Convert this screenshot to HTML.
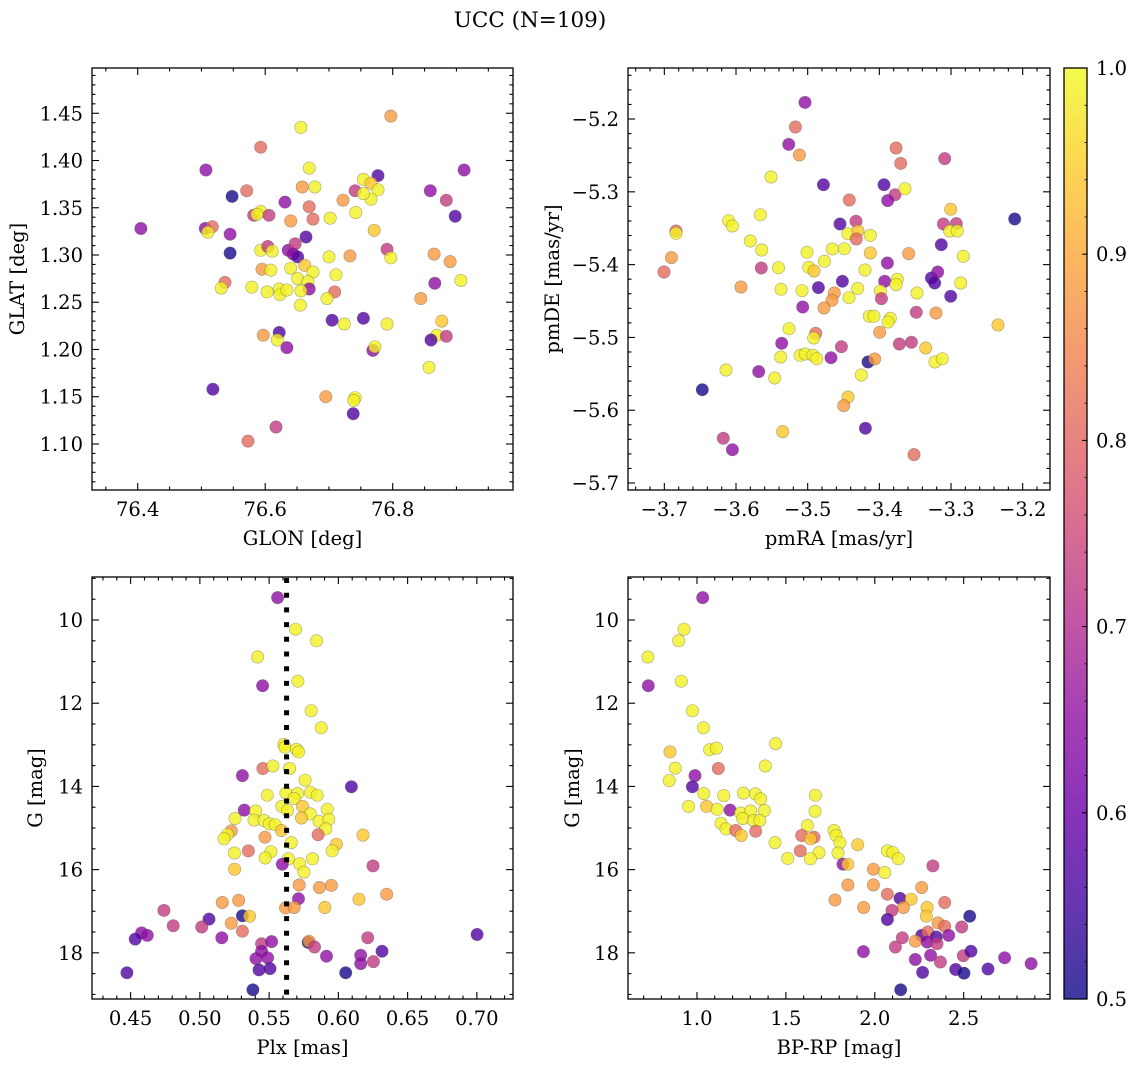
<!DOCTYPE html>
<html><head><meta charset="utf-8"><style>
html,body{margin:0;padding:0;background:#fff;}
svg{display:block;font-family:"DejaVu Serif","Liberation Serif",serif;}
</style></head><body>
<svg id="fig" width="1136" height="1067" viewBox="0 0 1136 1067" xmlns="http://www.w3.org/2000/svg">
<rect width="1136" height="1067" fill="#fff"/>
<text x="530" y="27" font-size="21.5" text-anchor="middle">UCC (N=109)</text>
</svg>
<script>
// ---------- data ----------
const p1Glon=[76.405,76.507,76.797,76.656,76.593,76.669,76.777,76.912,76.548,76.571,76.631,76.658,76.678,76.722,76.741,76.754,76.766,76.777,76.766,76.754,76.742,76.859,76.884,76.898,76.582,76.593,76.606,76.587,76.669,76.675,76.640,76.702,76.771,76.506,76.517,76.510,76.545,76.664,76.545,76.593,76.604,76.611,76.636,76.647,76.644,76.651,76.700,76.733,76.791,76.797,76.865,76.890,76.595,76.609,76.640,76.662,76.675,76.651,76.667,76.711,76.537,76.531,76.579,76.603,76.622,76.623,76.634,76.669,76.656,76.709,76.697,76.655,76.866,76.907,76.844,76.705,76.724,76.754,76.791,76.877,76.869,76.860,76.884,76.597,76.622,76.619,76.634,76.769,76.772,76.857,76.518,76.695,76.741,76.739,76.738,76.617,76.573];
const p1Glat=[1.328,1.390,1.447,1.435,1.414,1.392,1.384,1.390,1.362,1.368,1.356,1.372,1.372,1.358,1.368,1.380,1.376,1.369,1.359,1.365,1.345,1.368,1.358,1.341,1.342,1.346,1.342,1.343,1.351,1.338,1.336,1.339,1.326,1.328,1.330,1.324,1.322,1.319,1.302,1.305,1.309,1.304,1.305,1.312,1.301,1.298,1.298,1.299,1.306,1.297,1.301,1.293,1.285,1.284,1.286,1.289,1.282,1.275,1.272,1.279,1.271,1.265,1.266,1.261,1.264,1.258,1.263,1.264,1.262,1.261,1.254,1.247,1.270,1.273,1.254,1.231,1.227,1.233,1.227,1.230,1.215,1.210,1.214,1.215,1.218,1.210,1.202,1.199,1.203,1.181,1.158,1.150,1.149,1.146,1.132,1.118,1.103];
const p1Prob=[.65,.65,.88,.99,.81,.99,.57,.65,.51,.81,.65,.88,.99,.88,.73,.99,.94,.99,.99,.99,.99,.65,.73,.57,.73,.99,.73,.99,.81,.81,.88,.99,.94,.65,.81,.99,.65,.57,.51,.99,.73,.99,.65,.73,.65,.57,.99,.88,.73,.99,.88,.88,.88,.99,.99,.94,.99,.99,.99,.99,.81,.99,.99,.99,.99,.99,.99,.65,.99,.81,.99,.99,.65,.99,.88,.57,.99,.57,.99,.94,.99,.57,.73,.88,.57,.99,.65,.65,.99,.99,.57,.88,.99,.99,.57,.73,.81];

const p2PmRA=[-3.5037,-3.5172,-3.5265,-3.5116,-3.5512,-3.4781,-3.3767,-3.3702,-3.3088,-3.3935,-3.3781,-3.3884,-3.3642,-3.4419,-3.3004,-3.2112,-3.3107,-3.2926,-3.3019,-3.2912,-3.3135,-3.4549,-3.4326,-3.4437,-3.4298,-3.4321,-3.4126,-3.6837,-3.6837,-3.6102,-3.6051,-3.5660,-3.5800,-3.5642,-3.6902,-3.7005,-3.5647,-3.5409,-3.5009,-3.4656,-3.4488,-3.4126,-3.3591,-3.2828,-3.4767,-3.4986,-3.4912,-3.3888,-3.4200,-3.5930,-3.5372,-3.5079,-3.4851,-3.4516,-3.4628,-3.4660,-3.4423,-3.4302,-3.3926,-3.3749,-3.3767,-3.3986,-3.3972,-3.3274,-3.3186,-3.3228,-3.3474,-3.2865,-3.3004,-3.5070,-3.4772,-3.4140,-3.4074,-3.3847,-3.3879,-3.3484,-3.3209,-3.2344,-3.5260,-3.4888,-3.4916,-3.3995,-3.5363,-3.4530,-3.3721,-3.3553,-3.3353,-3.5377,-3.5107,-3.5033,-3.4926,-3.4874,-3.4674,-3.4158,-3.4065,-3.3223,-3.3121,-3.6140,-3.5684,-3.5460,-3.4251,-3.6470,-3.4437,-3.4498,-3.5349,-3.4195,-3.6177,-3.6051,-3.3516];
const p2PmDE=[-5.1771,-5.2109,-5.2348,-5.2494,-5.2796,-5.2902,-5.2398,-5.2609,-5.2544,-5.2902,-5.3039,-5.3121,-5.2957,-5.3112,-5.3240,-5.3373,-5.3442,-5.3437,-5.3538,-5.3538,-5.3726,-5.3442,-5.3405,-5.3575,-5.3538,-5.3648,-5.3598,-5.3538,-5.3570,-5.3396,-5.3469,-5.3314,-5.3675,-5.3799,-5.3904,-5.4101,-5.4046,-5.4042,-5.3831,-5.3785,-5.3781,-5.3840,-5.3849,-5.3886,-5.3955,-5.4037,-5.4087,-5.3978,-5.4074,-5.4307,-5.4339,-5.4358,-5.4316,-5.4229,-5.4390,-5.4490,-5.4454,-5.4326,-5.4229,-5.4202,-5.4275,-5.4362,-5.4467,-5.4184,-5.4101,-5.4252,-5.4390,-5.4252,-5.4435,-5.4582,-5.4596,-5.4710,-5.4710,-5.4738,-5.4788,-5.4655,-5.4664,-5.4829,-5.4880,-5.4944,-5.5008,-5.4930,-5.5081,-5.5127,-5.5090,-5.5067,-5.5145,-5.5269,-5.5246,-5.5228,-5.5246,-5.5292,-5.5278,-5.5337,-5.5296,-5.5337,-5.5292,-5.5447,-5.5470,-5.5557,-5.5516,-5.5718,-5.5818,-5.5937,-5.6294,-5.6249,-5.6386,-5.6542,-5.6610];
const p2Prob=[.65,.81,.65,.88,.99,.57,.81,.81,.73,.57,.73,.65,.99,.81,.94,.51,.73,.73,.99,.99,.57,.57,.73,.99,.94,.81,.99,.81,.99,.99,.99,.99,.99,.99,.88,.81,.73,.99,.99,.99,.99,.94,.88,.99,.99,.99,.94,.65,.99,.88,.99,.99,.57,.57,.88,.88,.99,.99,.65,.99,.99,.99,.73,.57,.65,.57,.99,.99,.57,.65,.88,.99,.99,.99,.99,.73,.88,.94,.99,.81,.99,.88,.65,.73,.73,.73,.94,.99,.99,.99,.99,.99,.65,.51,.88,.99,.99,.99,.65,.99,.99,.51,.94,.88,.94,.57,.73,.65,.81];

const p3Plx=[0.5561,0.5691,0.5842,0.5417,0.5453,0.5708,0.5804,0.5876,0.5607,0.5614,0.5698,0.5712,0.5455,0.5527,0.5648,0.5307,0.5760,0.6094,0.5487,0.5621,0.5705,0.5799,0.5847,0.5679,0.5592,0.5633,0.5741,0.5321,0.5403,0.5797,0.5919,0.5254,0.5391,0.5463,0.5501,0.5544,0.5734,0.5861,0.5931,0.5909,0.5590,0.5227,0.5198,0.5174,0.5470,0.5854,0.6178,0.5660,0.5986,0.5955,0.5350,0.5249,0.5513,0.5472,0.5640,0.5813,0.5595,0.5720,0.5751,0.5251,0.6250,0.5717,0.5864,0.5950,0.6349,0.6149,0.5712,0.5280,0.5162,0.5902,0.5619,0.5681,0.4740,0.5066,0.5307,0.5359,0.5227,0.4807,0.5013,0.5307,0.4579,0.4620,0.4533,0.5158,0.5446,0.5518,0.5782,0.5789,0.5828,0.5446,0.5405,0.5489,0.5914,0.6212,0.6161,0.6315,0.6253,0.6161,0.7002,0.5427,0.5506,0.6053,0.4473,0.5383];
const p3G=[9.46,10.22,10.50,10.89,11.58,11.47,12.18,12.59,12.99,13.06,13.11,13.17,13.57,13.51,13.57,13.74,13.85,14.01,14.21,14.16,14.17,14.14,14.21,14.29,14.48,14.58,14.48,14.57,14.59,14.66,14.55,14.77,14.81,14.82,14.90,14.92,14.76,14.84,14.79,15.02,15.06,15.07,15.16,15.26,15.22,15.16,15.17,15.35,15.39,15.55,15.55,15.60,15.57,15.72,15.74,15.74,15.87,15.86,16.06,15.99,15.91,16.37,16.43,16.38,16.59,16.71,16.70,16.74,16.79,16.91,16.92,16.91,16.98,17.19,17.11,17.12,17.29,17.35,17.38,17.48,17.52,17.58,17.67,17.64,17.78,17.73,17.75,17.72,17.86,17.96,18.14,18.12,18.08,17.64,18.06,17.96,18.21,18.26,17.56,18.41,18.38,18.48,18.48,18.89];
const p3Prob=[.65,.99,.99,.99,.65,.99,.99,.99,.99,.99,.99,.99,.81,.99,.99,.65,.99,.57,.99,.99,.99,.99,.99,.99,.99,.99,.94,.65,.99,.99,.99,.99,.99,.99,.99,.99,.94,.99,.99,.99,.94,.88,.99,.99,.88,.81,.94,.99,.94,.99,.81,.99,.99,.99,.99,.99,.65,.99,.99,.94,.73,.88,.88,.88,.88,.94,.65,.88,.88,.94,.88,.88,.73,.57,.51,.94,.88,.73,.73,.81,.65,.65,.57,.65,.73,.65,.51,.88,.73,.65,.65,.65,.65,.73,.65,.57,.73,.65,.57,.57,.57,.51,.57,.51];
const plxMedian=0.5626;

const p4BpRp=[1.032,0.927,0.897,0.724,0.726,0.912,0.974,1.036,1.443,0.848,1.071,1.109,1.384,0.878,1.120,0.989,0.844,0.974,1.038,1.150,1.261,1.328,1.358,1.666,0.953,1.054,1.113,1.186,1.246,1.302,1.379,1.664,1.257,1.317,1.354,1.135,1.163,1.218,1.249,1.330,1.621,1.589,1.658,1.638,1.771,1.782,1.804,1.904,1.439,1.581,1.686,1.510,1.638,1.793,2.071,2.102,2.132,1.821,1.848,2.327,1.992,2.056,1.849,1.992,2.264,2.071,1.776,2.142,2.204,2.393,1.937,2.161,2.294,2.097,2.290,2.071,2.534,2.356,2.393,2.489,2.155,2.264,2.299,2.346,2.416,2.228,2.295,2.350,2.116,1.936,2.228,2.314,2.369,2.498,2.541,2.730,2.879,2.269,2.455,2.502,2.637,2.146];
const p4G=[9.46,10.22,10.50,10.89,11.58,11.47,12.18,12.59,12.97,13.17,13.12,13.08,13.51,13.56,13.57,13.74,13.86,14.01,14.17,14.22,14.16,14.18,14.30,14.21,14.48,14.48,14.55,14.57,14.64,14.59,14.58,14.60,14.77,14.82,14.82,14.89,15.02,15.06,15.18,15.08,14.94,15.18,15.22,15.26,15.06,15.18,15.35,15.40,15.35,15.55,15.59,15.73,15.74,15.60,15.55,15.59,15.74,15.87,15.87,15.91,15.99,16.07,16.37,16.37,16.43,16.59,16.73,16.69,16.71,16.79,16.91,16.91,16.91,16.98,17.12,17.20,17.12,17.28,17.36,17.38,17.64,17.58,17.50,17.62,17.58,17.72,17.74,17.78,17.86,17.97,18.16,18.06,18.22,18.07,17.96,18.12,18.26,18.47,18.40,18.49,18.39,18.89];
const p4Prob=[.65,.99,.99,.99,.65,.99,.99,.99,.99,.94,.99,.99,.99,.99,.81,.65,.99,.57,.99,.99,.99,.99,.99,.99,.99,.94,.99,.65,.99,.99,.99,.99,.99,.99,.99,.99,.99,.81,.94,.81,.99,.81,.81,.94,.99,.99,.99,.94,.99,.81,.99,.99,.99,.99,.99,.99,.99,.65,.94,.73,.88,.99,.88,.88,.88,.81,.88,.57,.94,.81,.88,.88,.94,.73,.94,.57,.51,.88,.81,.73,.73,.57,.81,.57,.65,.88,.65,.73,.73,.65,.65,.65,.73,.73,.57,.65,.65,.57,.57,.51,.57,.51];

const cbarTicks=[0.5,0.6,0.7,0.8,0.9,1.0];

// ---------- helpers ----------
const NS='http://www.w3.org/2000/svg';
const svg=document.getElementById('fig');
const FS=19.5;
function mk(tag,attrs,parent){const e=document.createElementNS(NS,tag);for(const k in attrs)e.setAttribute(k,attrs[k]);(parent||svg).appendChild(e);return e;}
const stops=[[13,8,135],[65,4,157],[106,0,168],[143,13,164],[177,42,144],[204,71,120],[225,100,98],[242,132,75],[252,166,54],[252,206,37],[240,249,33]];
function plasma(v){let t=(v-0.5)/0.5;t=Math.max(0,Math.min(1,t));const f=t*10;const i=Math.min(9,Math.floor(f));const r=f-i;const a=stops[i],b=stops[i+1];return 'rgb('+[0,1,2].map(k=>Math.round(a[k]+(b[k]-a[k])*r)).join(',')+')';}
function fmt(v,d){const s=Math.abs(v).toFixed(d);return (v<-1e-9?'\u2212':'')+s;}

function panel(cfg){
  const {name,x0,y0,w,h,xmin,xmax,ymin,ymax,invY,xMaj,xMin,yMaj,yMin,xDec,yDec,xLabel,yLabel,yLabelX,xs,ys,ps}=cfg;
  const g=mk('g',{});
  
  
  const sx=v=>x0+(v-xmin)/(xmax-xmin)*w;
  const sy=v=>invY? y0+(v-ymin)/(ymax-ymin)*h : y0+h-(v-ymin)/(ymax-ymin)*h;
  const pg=mk('g',{},g);
  
  
  for(let i=0;i<xs.length;i++){
    const c=mk('circle',{cx:sx(xs[i]).toFixed(1),cy:sy(ys[i]).toFixed(1),r:6.2,fill:plasma(ps[i]),'fill-opacity':0.8,stroke:'#444','stroke-opacity':0.45,'stroke-width':0.6},pg);
    
    
  }
  if(cfg.extra)cfg.extra(g,sx,sy);
  const fr=mk('rect',{x:x0,y:y0,width:w,height:h,fill:'none',stroke:'#000','stroke-width':1.3},g);
  
  
  const xt=mk('g',{stroke:'#000','stroke-width':1.1},g);
  
  
  const eps=1e-9;
  for(let v=Math.ceil(xmin/xMin-eps)*xMin;v<=xmax+eps;v+=xMin){
    const isMaj=Math.abs(v/xMaj-Math.round(v/xMaj))<1e-6;const L=isMaj?7:3.5;const X=sx(v);
    mk('line',{x1:X,x2:X,y1:y0+h,y2:y0+h-L},xt);mk('line',{x1:X,x2:X,y1:y0,y2:y0+L},xt);
    if(isMaj){const t=mk('text',{x:X,y:y0+h+26,'font-size':FS,'text-anchor':'middle',stroke:'none',fill:'#000'},g);t.textContent=fmt(v,xDec);
      
      }
  }
  const yt=mk('g',{stroke:'#000','stroke-width':1.1},g);
  
  
  for(let v=Math.ceil(ymin/yMin-eps)*yMin;v<=ymax+eps;v+=yMin){
    const isMaj=Math.abs(v/yMaj-Math.round(v/yMaj))<1e-6;const L=isMaj?7:3.5;const Y=sy(v);
    mk('line',{x1:x0,x2:x0+L,y1:Y,y2:Y},yt);mk('line',{x1:x0+w,x2:x0+w-L,y1:Y,y2:Y},yt);
    if(isMaj){const t=mk('text',{x:x0-9,y:Y+7,'font-size':FS,'text-anchor':'end',fill:'#000'},g);t.textContent=fmt(v,yDec);
      
      }
  }
  const xl=mk('text',{x:x0+w/2,y:y0+h+55,'font-size':FS,'text-anchor':'middle'},g);xl.textContent=xLabel;
  
  
  const yc=y0+h/2;
  const yl=mk('text',{x:yLabelX,y:yc,'font-size':FS,'text-anchor':'middle',transform:'rotate(-90 '+yLabelX+' '+yc+')'},g);yl.textContent=yLabel;
  
  
}

panel({name:'glon-glat-panel',x0:92,y0:68,w:421,h:422,xmin:76.3283,xmax:76.9887,ymin:1.0513,ymax:1.4979,xMaj:0.2,xMin:0.05,yMaj:0.05,yMin:0.01,xDec:1,yDec:2,xLabel:'GLON [deg]',yLabel:'GLAT [deg]',yLabelX:24,xs:p1Glon,ys:p1Glat,ps:p1Prob});
panel({name:'pm-panel',x0:628,y0:68,w:422,h:422,xmin:-3.7507,xmax:-3.1619,ymin:-5.7096,ymax:-5.1299,xMaj:0.1,xMin:0.02,yMaj:0.1,yMin:0.02,xDec:1,yDec:1,xLabel:'pmRA [mas/yr]',yLabel:'pmDE [mas/yr]',yLabelX:559,xs:p2PmRA,ys:p2PmDE,ps:p2Prob});
panel({name:'plx-g-panel',x0:92,y0:577,w:421,h:422,xmin:0.4221,xmax:0.7261,ymin:8.966,ymax:19.11,invY:true,xMaj:0.05,xMin:0.01,yMaj:2,yMin:0.5,xDec:2,yDec:0,xLabel:'Plx [mas]',yLabel:'G [mag]',yLabelX:42,xs:p3Plx,ys:p3G,ps:p3Prob,
  extra:(g,sx,sy)=>{const X=sx(plxMedian);const l=mk('line',{x1:X,x2:X,y1:578,y2:999,stroke:'#000','stroke-width':5,'stroke-dasharray':'5 9.7'},g);
    
    }});
panel({name:'cmd-panel',x0:628,y0:577,w:422,h:422,xmin:0.612,xmax:2.9855,ymin:8.966,ymax:19.11,invY:true,xMaj:0.5,xMin:0.1,yMaj:2,yMin:0.5,xDec:1,yDec:0,xLabel:'BP-RP [mag]',yLabel:'G [mag]',yLabelX:579,xs:p4BpRp,ys:p4G,ps:p4Prob});

// colorbar
(function(){
  const x0=1064,y0=68,w=23,h=931;
  const g=mk('g',{});
  
  
  const defs=mk('defs',{},g);
  const lg=mk('linearGradient',{id:'cbg',x1:0,y1:1,x2:0,y2:0},defs);
  for(let i=0;i<=20;i++){mk('stop',{offset:(i/20),'stop-color':plasma(0.5+i/40)},lg);}
  const r=mk('rect',{x:x0,y:y0,width:w,height:h,fill:'url(#cbg)','fill-opacity':0.8},g);
  
  
  mk('rect',{x:x0,y:y0,width:w,height:h,fill:'none',stroke:'#000','stroke-width':1.3},g);
  const sy=v=>y0+h-(v-0.5)/0.5*h;
  for(let k=0;k<=25;k++){const v=0.5+k*0.02;const Y=sy(v);mk('line',{x1:x0+w,x2:x0+w-2.5,y1:Y,y2:Y,stroke:'#000','stroke-width':0.8},g);}
  cbarTicks.forEach(v=>{const Y=sy(v);mk('line',{x1:x0+w,x2:x0+w-5,y1:Y,y2:Y,stroke:'#000','stroke-width':1},g);
    const t=mk('text',{x:x0+w+9,y:Y+7,'font-size':FS},g);t.textContent=v.toFixed(1);
    
    });
})();
</script>
</body></html>
